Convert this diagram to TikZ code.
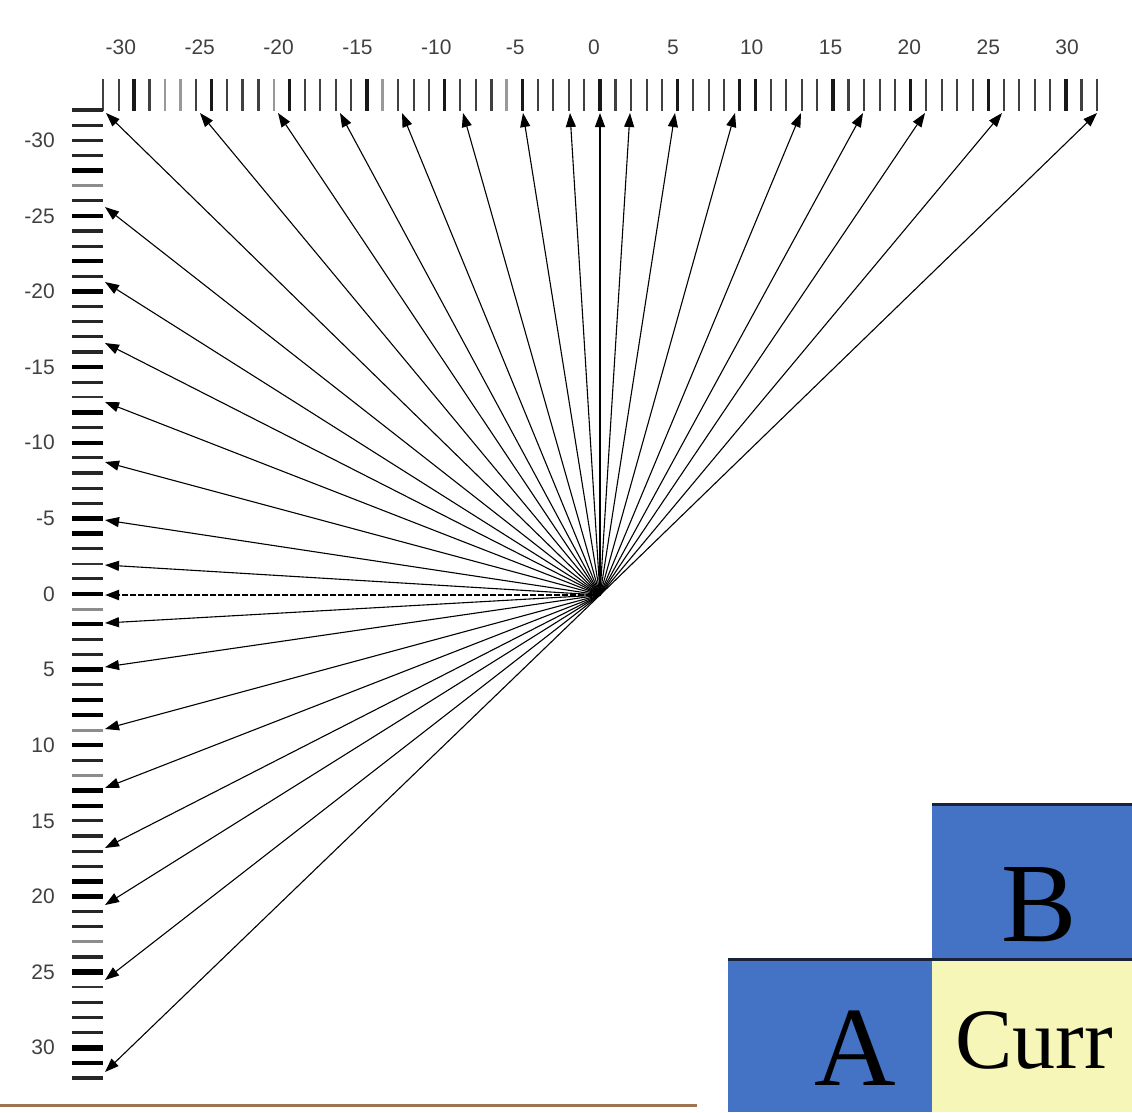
\documentclass[tikz,border=0pt]{standalone}
\usepackage{fontspec}
\setmainfont{Liberation Serif}
\setsansfont{Liberation Sans}
\usetikzlibrary{arrows.meta}
\definecolor{boxblue}{RGB}{68,114,196}
\definecolor{curryellow}{RGB}{246,246,184}
\definecolor{edgenavy}{RGB}{25,35,55}
\definecolor{floorbrown}{RGB}{160,115,80}
\tikzset{
 ray/.style={-{Triangle[length=14pt,width=10pt]},line width=1.1pt},
 vt/.style={line width=2pt,black!75},
 vm/.style={line width=2.6pt,black!75},
 vl/.style={line width=2.6pt,black!40},
 vb/.style={line width=3.4pt,black!90},
 ht/.style={line width=2pt,black!80},
 hm/.style={line width=3.2pt,black!85},
 hl/.style={line width=2.8pt,black!45},
 hb/.style={line width=4.4pt,black},
 hx/.style={line width=5.8pt,black},
 num/.style={font=\sffamily\fontsize{21}{21}\selectfont,text=black!75,inner sep=0pt},
 boxtxt/.style={font=\fontsize{113}{113}\selectfont,inner sep=0pt,anchor=base},
 currtxt/.style={font=\fontsize{86}{86}\selectfont,inner sep=0pt,anchor=base}
}
\begin{document}
\begin{tikzpicture}[x=1pt,y=-1pt]
 \useasboundingbox (0,0) rectangle (1132,1112);
 \foreach \s [count=\i from 0] in {t,t,b,m,l, l,t,b,t,m, m,l,b,t,t, t,t,b,l,t, t,t,b,t,t,
   m,l,b,t,t, t,t,b,m,t, t,t,b,t,t, t,b,b,t,t, t,t,b,m,t, t,t,b,t,t, t,t,b,t,t, t,t,b,m,t}
   \draw[v\s] (103+15.53*\i,79) -- (103+15.53*\i,111);
 \foreach \s [count=\i from 0] in {m,m,m,m,b, l,m,b,m,m, b,m,b,m,m, m,m,b,m,t, b,m,b,m,m,
   m,m,b,b,m, t,m,b,l,b, m,m,b,m,b, b,l,b,m,l, b,b,m,m,m, m,b,x,m,m, l,m,x,t,m, m,m,x,b,m}
   \draw[h\s] (72,110+15.125*\i) -- (103,110+15.125*\i);
 \foreach \v in {-30,-25,...,30} {
   \path (594+15.77*\v,47) node[num] (top\v) {\v}
     (55,594+15.125*\v) node[num,anchor=east] (lft\v) {\v};
 }
 \coordinate (o) at (600,595);
 \foreach \d [count=\i] in {-494,-400,-322,-260,-198,-137,-77,-30,0,30,75,135,201,263,325,402,497} {
   \coordinate (t\i) at (600+\d,113);
   \draw[ray] (o) -- (t\i);
 }
 \foreach \d [count=\i] in {-388,-313,-252,-193,-133,-75,-30,28,72,134,193,253,310,385,477} {
   \coordinate (l\i) at (105,595+\d);
   \draw[ray] (o) -- (l\i);
 }
 \coordinate (l0) at (105,595);
 \draw[ray,dash pattern=on 6pt off 2pt,line width=2pt] (o) -- (l0);
 \fill[boxblue] (932,804) rectangle (1132,959);
 \fill[boxblue] (728,959) rectangle (932,1112);
 \fill[curryellow] (932,959) rectangle (1132,1112);
 \draw[edgenavy,line width=3pt] (932,804) -- (1132,804);
 \draw[edgenavy,line width=3pt] (728,959) -- (1132,959);
 \node[boxtxt] (bl) at (1039,941) {B};
 \node[boxtxt] (al) at (855,1085) {A};
 \node[currtxt] (cl) at (1034,1068) {Curr};
 \draw[floorbrown,line width=3pt] (0,1105) -- (697,1105);
\end{tikzpicture}
\end{document}
